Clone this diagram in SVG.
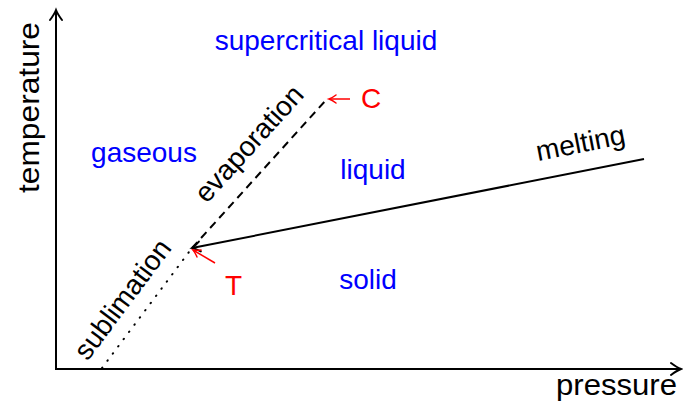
<svg xmlns="http://www.w3.org/2000/svg" width="683" height="405" viewBox="0 0 683 405">
<style>
text{font-family:"Liberation Sans",Arial,sans-serif;font-size:28px}
.lbl{fill:#000}
.axl{fill:#000;font-size:30px}
.reg{fill:#0000ff}
.red{fill:#ff0000}
.ax{stroke:#000;stroke-width:2;fill:none}
.ln{stroke:#000;stroke-width:2;fill:none}
.rl{stroke:#ff0000;stroke-width:1.5;fill:none}
</style>
<defs>
<marker id="ah" markerUnits="userSpaceOnUse" orient="auto" refX="0" refY="0" overflow="visible">
<path d="M -10 -6 Q -4 -1.5 0 0 Q -4 1.5 -10 6" fill="none" stroke="#000" stroke-width="2" stroke-linecap="round"/>
</marker>
<marker id="ahs" markerUnits="userSpaceOnUse" orient="auto" refX="0" refY="0" overflow="visible">
<path d="M -8 -5 Q -3 -1.2 0 0 Q -3 1.2 -8 5" fill="none" stroke="#000" stroke-width="2" stroke-linecap="round"/>
</marker>
<marker id="ahr" markerUnits="userSpaceOnUse" orient="auto" refX="0" refY="0" overflow="visible">
<path d="M -7 -4 Q -3 -1 0 0 Q -3 1 -7 4" fill="none" stroke="#ff0000" stroke-width="1.5" stroke-linecap="round"/>
</marker>
</defs>
<g id="connectors">
<line id="y-axis" class="ax" x1="56" y1="369" x2="56" y2="10" marker-end="url(#ah)"/>
<line id="x-axis" class="ax" x1="55" y1="369" x2="681" y2="369" marker-end="url(#ah)"/>
<line id="sublimation-line" class="ln" x1="102" y1="368" x2="192" y2="248" stroke-dasharray="0.5 8.5" stroke-linecap="round"/>
<line id="evaporation-line" class="ln" x1="192" y1="248" x2="327" y2="99" stroke-dasharray="8 5.5"/>
<line id="melting-line" class="ln" x1="644" y1="159" x2="192" y2="248" marker-end="url(#ahs)"/>
<line id="c-pointer" class="rl" x1="350" y1="99" x2="329" y2="99" marker-end="url(#ahr)"/>
<line id="t-pointer" class="rl" x1="215" y1="263" x2="193" y2="250" marker-end="url(#ahr)"/>
</g>
<g id="axis-labels">
<text class="axl" transform="translate(39,193) rotate(-90)" textLength="171" lengthAdjust="spacingAndGlyphs">temperature</text>
<text class="axl" x="556" y="395" textLength="121" lengthAdjust="spacingAndGlyphs">pressure</text>
</g>
<g id="supercritical">
<text class="reg" x="326" y="50" text-anchor="middle">supercritical liquid</text>
</g>
<g id="gaseous">
<text class="reg" x="144" y="162" text-anchor="middle">gaseous</text>
</g>
<g id="liquid">
<text class="reg" x="373" y="179" text-anchor="middle">liquid</text>
</g>
<g id="solid">
<text class="reg" x="368" y="289" text-anchor="middle">solid</text>
</g>
<g id="critical-point">
<text class="red" x="361" y="108">C</text>
</g>
<g id="triple-point">
<text class="red" x="225" y="295">T</text>
</g>
<g id="curve-labels">
<text class="lbl" text-anchor="middle" transform="translate(256,150) rotate(-47.8)">evaporation</text>
<text class="lbl" text-anchor="middle" transform="translate(130,305) rotate(-53.1)">sublimation</text>
<text class="lbl" transform="translate(538,161) rotate(-11.1)">melting</text>
</g>
</svg>
